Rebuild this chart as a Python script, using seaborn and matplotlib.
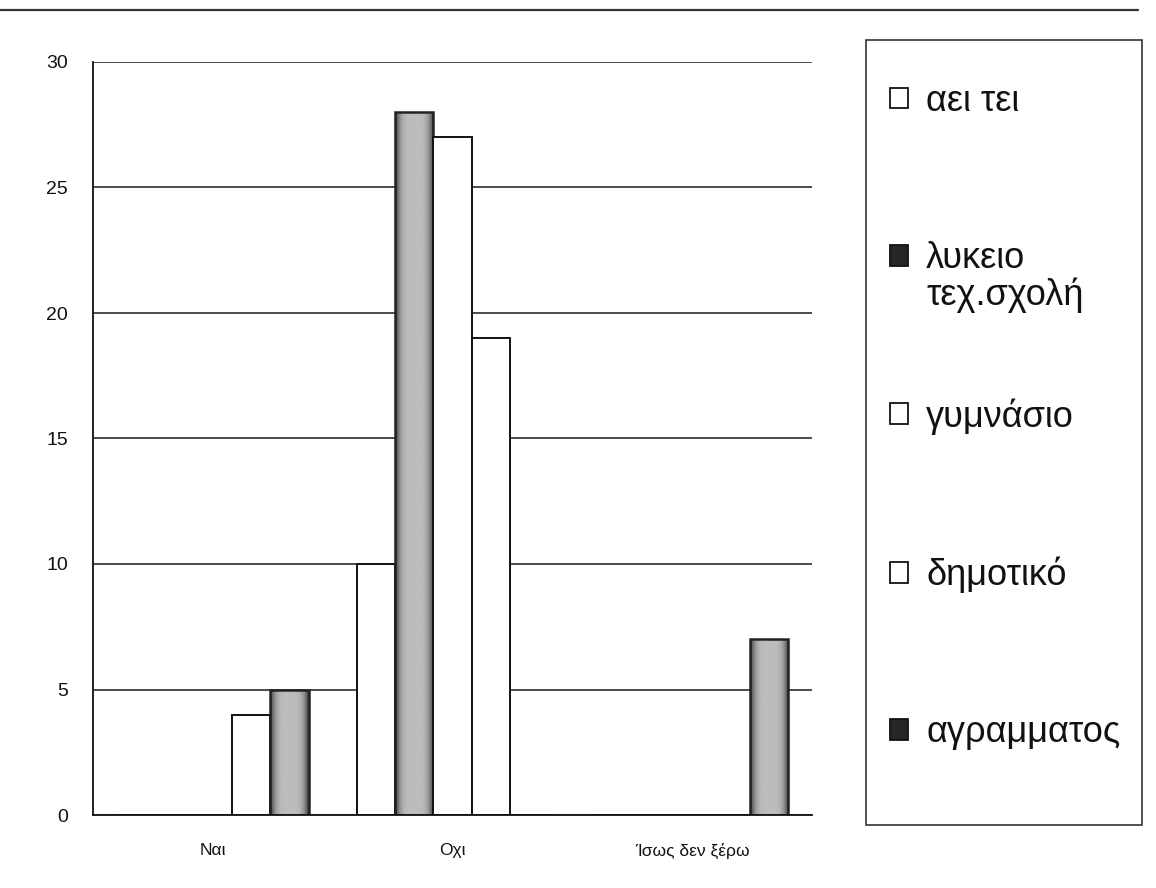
import numpy as np
import pandas as pd
import matplotlib
matplotlib.use("Agg")
import matplotlib.pyplot as plt
from matplotlib.patches import Patch, Rectangle
from matplotlib.lines import Line2D
import seaborn as sns

# Answers and education levels
categories = ["Ναι", "Οχι", "Ίσως δεν ξέρω"]
series = ["αει τει", "λυκειο τεχ.σχολή", "γυμνάσιο", "δημοτικό", "αγραμματος"]

aei_tei = [0, 10, 0]
lykeio = [0, 28, 0]
gymnasio = [0, 27, 0]
dimotiko = [4, 19, 0]
agrammatos = [5, 0, 7]

y_ticks = [0, 5, 10, 15, 20, 25, 30]

values = [aei_tei, lykeio, gymnasio, dimotiko, agrammatos]
df = pd.DataFrame(
    [(c, s, v) for s, vals in zip(series, values) for c, v in zip(categories, vals)],
    columns=["answer", "level", "count"],
)

sns.set_style("white")
plt.rcParams["font.family"] = ["Liberation Sans", "DejaVu Sans"]

W, H = 1156, 888
fig = plt.figure(figsize=(W / 100, H / 100), dpi=100)
fig.patch.set_facecolor("white")
ax = fig.add_axes([93 / W, 1 - 815 / H, 719 / W, 753 / H])

filled = {series[1], series[4]}
palette = {s: ("#9a9a9a" if s in filled else "white") for s in series}

sns.barplot(
    data=df, x="answer", y="count", hue="level", order=categories,
    hue_order=series, palette=palette, width=0.8, edgecolor="#111111",
    linewidth=1.4, saturation=1, legend=False, ax=ax,
)

ax.set_xlim(-0.5, 2.5)
ax.set_ylim(0, 30)
ax.set_yticks(y_ticks)
ax.set_yticklabels([str(t) for t in y_ticks], fontsize=14)
ax.set_xticks(range(len(categories)))
ax.set_xticklabels(categories, fontsize=12.5)
ax.set_xlabel("")
ax.set_ylabel("")
ax.set_facecolor("white")

ax.set_axisbelow(True)
ax.yaxis.grid(True, color="#1a1a1a", linewidth=1.1)
ax.xaxis.grid(False)
for side in ("top", "right"):
    ax.spines[side].set_visible(False)
for side in ("left", "bottom"):
    ax.spines[side].set_color("#111111")
    ax.spines[side].set_linewidth(1.3)

ax.tick_params(axis="y", direction="out", length=6, width=1.1, color="#111111",
               pad=12, labelcolor="#111111")
ax.tick_params(axis="x", which="major", length=0, pad=20, labelcolor="#111111")
ax.set_xticks([-0.5, 0.5, 1.5, 2.5], minor=True)
ax.tick_params(axis="x", which="minor", direction="out", length=5, width=1.0,
               color="#111111")

# Shaded fill for the dark series: dark at the sides, lighter in the middle
prof = np.linspace(-1, 1, 64)
shade = 0.18 + 0.56 * (1 - np.abs(prof) ** 4)
grad = np.tile(shade, (8, 1))
for s, cont in zip(series, ax.containers):
    if s not in filled:
        continue
    for p in cont.patches:
        if p.get_height() <= 0:
            continue
        p.set_facecolor("none")
        p.set_edgecolor("#222222")
        p.set_linewidth(1.8)
        x0 = p.get_x()
        im = ax.imshow(grad, cmap="gray", vmin=0, vmax=1, aspect="auto",
                       extent=(x0, x0 + p.get_width(), 0, p.get_height()),
                       zorder=p.get_zorder() - 0.05, interpolation="bilinear")
        im.set_clip_path(p)
ax.set_xlim(-0.5, 2.5)
ax.set_ylim(0, 30)

# Legend panel
fig.patches.append(Rectangle((866 / W, 1 - 825 / H), 276 / W, 785 / H,
                             transform=fig.transFigure, facecolor="white",
                             edgecolor="#222222", linewidth=1.1, zorder=0))
handles = [Patch(facecolor=("#262626" if s in filled else "white"),
                 edgecolor="#111111", linewidth=1.3) for s in series]
first_words = [s.split(" ")[0] if s == series[1] else s for s in series]
leg = fig.legend(handles, first_words, loc="upper left",
                 bbox_to_anchor=(890 / W, 1 - 84 / H), frameon=False,
                 fontsize=26, borderpad=0, borderaxespad=0, labelspacing=3.38,
                 handlelength=0.5, handleheight=0.5, handletextpad=0.5)
for t in leg.get_texts():
    t.set_color("#111111")

fig.canvas.draw()
lt = leg.get_texts()[1]
bb = lt.get_window_extent()
fig.text(bb.x0 / W, (bb.y0 - 37) / H, series[1].split(" ", 1)[1],
         fontsize=26, color="#111111", va="bottom", ha="left")

# Page rule along the top
fig.add_artist(Line2D([0, 1138 / W], [1 - 10 / H, 1 - 10 / H],
                      transform=fig.transFigure, color="#333333", linewidth=1.6))

fig.savefig("out.png", dpi=100)
